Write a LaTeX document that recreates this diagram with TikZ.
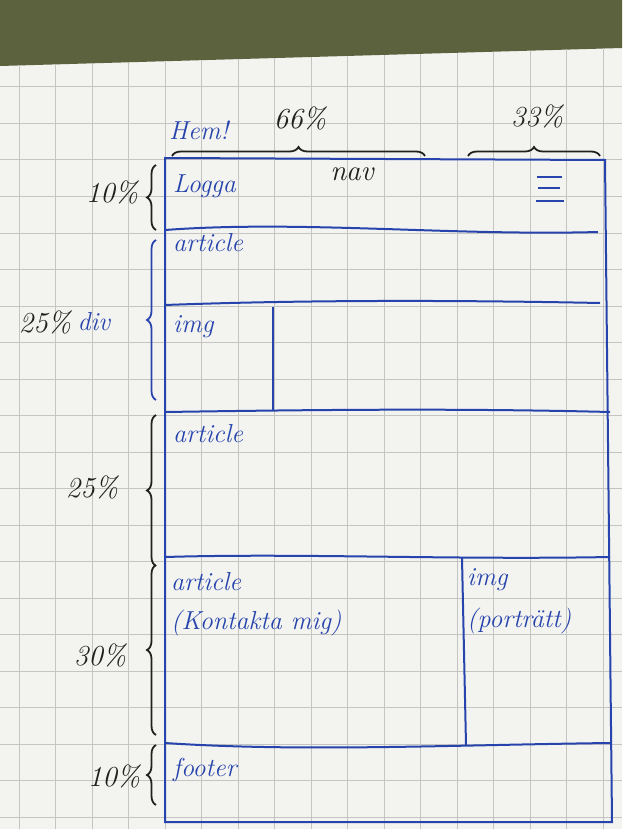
\documentclass[tikz,border=0pt]{standalone}
\usepackage{tikz}
\usetikzlibrary{positioning,decorations.pathreplacing}
\definecolor{pen}{RGB}{38,68,172}
\definecolor{ink}{RGB}{32,32,30}
\definecolor{paper}{RGB}{243,243,240}
\definecolor{gridline}{RGB}{196,196,194}
\definecolor{desk}{RGB}{92,98,62}
\tikzset{box/.style={draw=pen,line width=2pt},
	penlabel/.style={text=pen,inner sep=1pt,anchor=west,
		font=\fontsize{26}{28}\selectfont\itshape},
	inklabel/.style={text=ink,inner sep=1pt,
		font=\fontsize{29}{31}\selectfont\itshape},
	brace/.style={draw=ink,line width=1.8pt,decorate,
		decoration={brace,amplitude=9pt}},
	penbrace/.style={brace,draw=pen}}

\begin{document}
\begin{tikzpicture}[x=1pt,y=-1pt]
	\useasboundingbox (0,0) rectangle (622,829);
	% paper and desk
	\fill[paper] (0,0) rectangle (622,829);
	\fill[desk] (0,0) -- (622,0) -- (622,48) -- (0,66) -- cycle;
	\foreach \gy in {0,...,20}
		\draw[gridline,line width=1pt] (0,87+36.5*\gy) -- (622,87+36.5*\gy);
	\foreach \gx in {0,...,16}
		\draw[gridline,line width=1pt] (19+36.5*\gx,66-1.1*\gx) -- (19+36.5*\gx,829);
	
	% frame and rows
	\coordinate (tl) at (165,158);
	\coordinate (tr) at (605,160);
	\coordinate (br) at (612,822);
	\coordinate (bl) at (165,822);
	\draw[box] (tl) -- (tr) -- (br) -- (bl) -- cycle;
	\draw[box] (165,230) .. controls (300,220) and (450,236) .. (598,232);
	\draw[box] (165,305) .. controls (300,300) and (450,300) .. (600,303);
	\draw[box] (273,307) -- (273,410);
	\draw[box] (165,412) .. controls (300,410) and (450,408) .. (610,412);
	\draw[box] (165,557) .. controls (300,553) and (450,560) .. (610,557);
	\draw[box] (462,558) -- (466,745);
	\draw[box] (165,743) .. controls (300,752) and (450,745) .. (610,743);
	
	% hamburger
	\draw[pen,line width=2.4pt] (537,177) -- (562,177);
	\draw[pen,line width=2.4pt] (538,188) -- (560,188);
	\draw[pen,line width=2.4pt] (536,201) -- (564,201);
	
	% braces
	\draw[brace] (172,156) -- (425,156);
	\draw[brace] (468,156) -- (600,156);
	\draw[brace] (156,230) -- (156,165);
	\draw[penbrace] (156,400) -- (156,240);
	\draw[brace] (156,566) -- (156,415);
	\draw[brace] (156,735) -- (156,565);
	\draw[brace] (156,805) -- (156,745);
	
	% labels
	\node[penlabel] (hem) at (168,130) {Hem!};
	\node[inklabel] (wide) at (300,118) {66\%};
	\node[inklabel] (narrow) at (537,116) {33\%};
	\node[inklabel] (nav) at (352,174) {nav};
	\node[penlabel] (logga) at (172,186) {Logga};
	\node[inklabel] (headpct) at (112,192) {10\%};
	\node[penlabel] (art1) at (172,243) {article};
	\node[penlabel] (img1) at (172,327) {img};
	\node[inklabel] (divpct) at (45,322) {25\%};
	\node[penlabel] (div) [right=4pt of divpct] {div};
	\node[penlabel] (art2) at (172,434) {article};
	\node[inklabel] (artpct) at (92,487) {25\%};
	\node[penlabel] (art3) at (170,582) {article};
	\node[penlabel] (contact) [below=16pt of art3.south west,anchor=north west] {(Kontakta mig)};
	\node[penlabel] (img2) at (466,580) {img};
	\node[penlabel] (portrait) [below=14pt of img2.south west,anchor=north west] {(porträtt)};
	\node[inklabel] (contpct) at (100,655) {30\%};
	\node[penlabel] (footer) at (172,770) {footer};
	\node[inklabel] (footpct) at (114,776) {10\%};
\end{tikzpicture}
\end{document}
